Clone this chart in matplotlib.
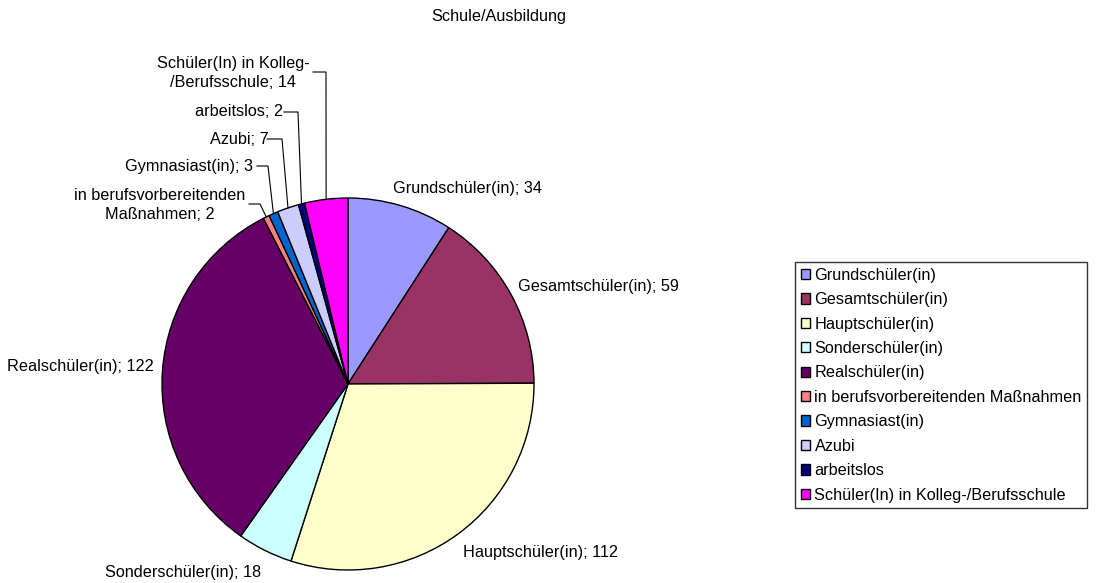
import matplotlib
matplotlib.use("Agg")
import matplotlib.pyplot as plt
import numpy as np

plt.rcParams['font.family'] = ['Liberation Sans', 'DejaVu Sans']

title = "Schule/Ausbildung"
categories = ["Grundschüler(in)", "Gesamtschüler(in)", "Hauptschüler(in)",
              "Sonderschüler(in)", "Realschüler(in)",
              "in berufsvorbereitenden Maßnahmen", "Gymnasiast(in)", "Azubi",
              "arbeitslos", "Schüler(In) in Kolleg-/Berufsschule"]
label_texts = ["Grundschüler(in); 34", "Gesamtschüler(in); 59", "Hauptschüler(in); 112",
               "Sonderschüler(in); 18", "Realschüler(in); 122",
               "in berufsvorbereitenden\nMaßnahmen; 2", "Gymnasiast(in); 3", "Azubi; 7",
               "arbeitslos; 2", "Schüler(In) in Kolleg-\n/Berufsschule; 14"]
values = [34, 59, 112, 18, 122, 2, 3, 7, 2, 14]
colors = ["#9999FF", "#993366", "#FFFFCC", "#CCFFFF", "#660066",
          "#FF8080", "#0066CC", "#CCCCFF", "#000080", "#FF00FF"]

W, H = 1096, 583
fig = plt.figure(figsize=(W / 100, H / 100), dpi=100)
ax = fig.add_axes([0, 0, 1, 1])

def Y(py):
    return H - py

cx, cy, R = 348, Y(384), 186
wedges, _ = ax.pie(values, colors=colors, startangle=90, counterclock=False,
                   center=(cx, cy), radius=R,
                   wedgeprops=dict(edgecolor='black', linewidth=1.0))
ax.set_xlim(0, W)
ax.set_ylim(0, H)
ax.set_aspect('equal', adjustable='datalim')
ax.axis('off')

fs = 11.7
# label anchors in pixel coords: (x, y, ha)
label_pos = [(393, 188, 'left'), (518, 286, 'left'), (463, 552, 'left'),
             (105, 572, 'left'), (7, 367, 'left'),
             (160, 205, 'center'), (189, 166, 'center'), (239, 139, 'center'),
             (239, 112, 'center'), (233, 73, 'center')]
# leader line elbows for small slices: (x_start, x_elbow, y)
leaders = {5: (249, 260, 204), 6: (257, 268, 166), 7: (267, 282, 139),
           8: (284, 298, 112), 9: (313, 326, 72)}

for i, w in enumerate(wedges):
    lx, ly, ha = label_pos[i]
    ax.text(lx, Y(ly), label_texts[i], ha=ha, va='center',
            multialignment='center', fontsize=fs, color='black',
            linespacing=1.35)
    if i in leaders:
        x0, x1, yy = leaders[i]
        ang = np.deg2rad((w.theta1 + w.theta2) / 2)
        ex = cx + R * np.cos(ang)
        ey = cy + R * np.sin(ang)
        ax.plot([x0, x1, ex], [Y(yy), Y(yy), ey], color='black', linewidth=0.8)

ax.text(499, Y(17), title, ha='center', va='center', fontsize=fs)

handles = [plt.Rectangle((0, 0), 1, 1, facecolor=c, edgecolor='black', linewidth=1)
           for c in colors]
leg = fig.legend(handles, categories, loc='upper left',
                 bbox_to_anchor=(795 / W, 1 - 262 / H), fontsize=fs,
                 frameon=True, fancybox=False, edgecolor='black',
                 handlelength=0.6, handleheight=0.6, handletextpad=0.25,
                 labelspacing=0.58, borderpad=0.35, borderaxespad=0,
                 shadow=False)
leg.get_frame().set_linewidth(1.0)

fig.savefig("out.png", dpi=100, facecolor='white')
